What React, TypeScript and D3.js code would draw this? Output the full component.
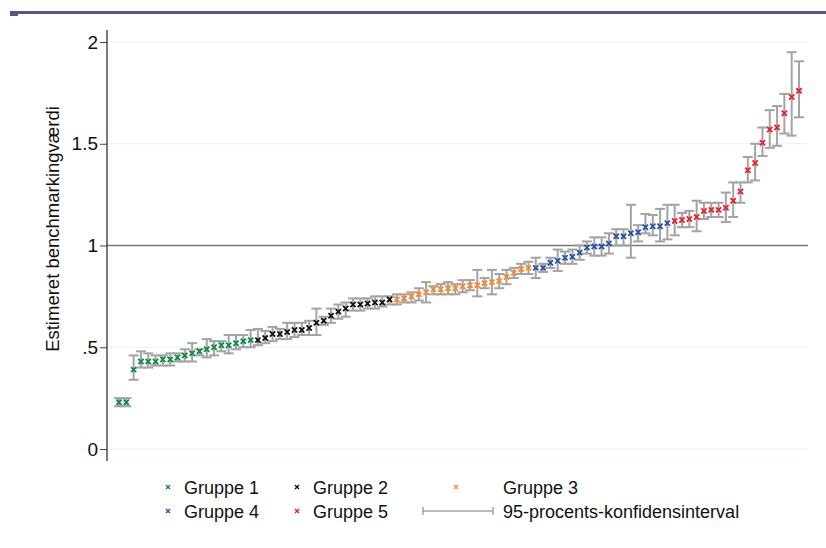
import React, { useRef, useEffect } from 'react';
import * as d3 from 'd3';

// [estimate, lower 95% CI, upper 95% CI], sorted by estimate
const gruppe1: [number, number, number][] = [
  [0.23, 0.21, 0.25], [0.23, 0.21, 0.25], [0.39, 0.34, 0.46], [0.43, 0.4, 0.48],
  [0.43, 0.4, 0.47], [0.43, 0.41, 0.46], [0.44, 0.41, 0.46], [0.44, 0.41, 0.47],
  [0.45, 0.43, 0.47], [0.46, 0.43, 0.49], [0.47, 0.43, 0.52], [0.48, 0.46, 0.49],
  [0.49, 0.45, 0.54], [0.5, 0.46, 0.53], [0.51, 0.48, 0.53], [0.51, 0.47, 0.56],
  [0.52, 0.49, 0.56], [0.53, 0.5, 0.56], [0.535, 0.5, 0.585],
];
const gruppe2: [number, number, number][] = [
  [0.535, 0.51, 0.59], [0.545, 0.52, 0.58], [0.565, 0.53, 0.6], [0.565, 0.54, 0.59],
  [0.575, 0.54, 0.62], [0.585, 0.55, 0.62], [0.585, 0.56, 0.62], [0.595, 0.56, 0.63],
  [0.62, 0.56, 0.69], [0.63, 0.61, 0.65], [0.655, 0.62, 0.69], [0.675, 0.64, 0.71],
  [0.69, 0.65, 0.72], [0.71, 0.68, 0.74], [0.71, 0.68, 0.74], [0.715, 0.69, 0.74],
  [0.72, 0.69, 0.75], [0.72, 0.7, 0.75], [0.735, 0.71, 0.75],
];
const gruppe3: [number, number, number][] = [
  [0.735, 0.71, 0.76], [0.74, 0.72, 0.76], [0.75, 0.72, 0.77], [0.76, 0.73, 0.79],
  [0.77, 0.72, 0.82], [0.785, 0.76, 0.8], [0.785, 0.76, 0.81], [0.79, 0.76, 0.82],
  [0.79, 0.76, 0.81], [0.8, 0.77, 0.83], [0.805, 0.78, 0.83], [0.805, 0.75, 0.88],
  [0.815, 0.79, 0.84], [0.82, 0.76, 0.88], [0.825, 0.79, 0.86], [0.845, 0.81, 0.88],
  [0.865, 0.84, 0.89], [0.885, 0.86, 0.91], [0.89, 0.86, 0.92],
];
const gruppe4: [number, number, number][] = [
  [0.89, 0.84, 0.94], [0.89, 0.87, 0.91], [0.915, 0.89, 0.94], [0.925, 0.875, 0.98],
  [0.94, 0.91, 0.97], [0.945, 0.91, 0.98], [0.965, 0.93, 1.0], [0.99, 0.96, 1.02],
  [0.995, 0.95, 1.04], [0.995, 0.95, 1.04], [1.01, 0.96, 1.06], [1.045, 1.0, 1.08],
  [1.045, 1.0, 1.08], [1.06, 0.94, 1.2], [1.065, 1.02, 1.1], [1.09, 1.06, 1.155],
  [1.095, 1.05, 1.15], [1.095, 1.02, 1.18], [1.11, 1.03, 1.2],
];
const gruppe5: [number, number, number][] = [
  [1.12, 1.05, 1.2], [1.125, 1.09, 1.16], [1.13, 1.09, 1.17], [1.14, 1.07, 1.22],
  [1.17, 1.13, 1.21], [1.175, 1.14, 1.21], [1.175, 1.14, 1.21], [1.185, 1.115, 1.26],
  [1.22, 1.14, 1.31], [1.265, 1.21, 1.31], [1.37, 1.31, 1.435], [1.405, 1.32, 1.5],
  [1.505, 1.44, 1.58], [1.57, 1.48, 1.665], [1.58, 1.49, 1.685], [1.65, 1.55, 1.745],
  [1.73, 1.54, 1.95], [1.76, 1.63, 1.905],
];

const groupNames = ['Gruppe 1', 'Gruppe 2', 'Gruppe 3', 'Gruppe 4', 'Gruppe 5'];
const groupColors = ['#0b8a45', '#111111', '#f7882f', '#2552a8', '#ec1c2a'];
const yTicks = [0, 0.5, 1, 1.5, 2];
const yTickLabels = ['0', '.5', '1', '1.5', '2'];
const yTitle = 'Estimeret benchmarkingværdi';
const ciLabel = '95-procents-konfidensinterval';

const App: React.FC = () => {
  const svgRef = useRef<SVGSVGElement | null>(null);

  useEffect(() => {
    if (!svgRef.current) return;
    const svg = d3.select(svgRef.current);
    svg.selectAll('*').remove();
    const font = 'Arial, "Liberation Sans", sans-serif';

    const points = [gruppe1, gruppe2, gruppe3, gruppe4, gruppe5].flatMap((g, gi) =>
      g.map(([est, lo, hi]) => ({ est, lo, hi, gi }))
    );

    const x = d3.scaleLinear().domain([0, points.length - 1]).range([119, 799]);
    const y = d3.scaleLinear().domain([0, 2]).range([449, 42]);
    const left = 107;
    const right = 808;

    // top banner line
    svg.append('rect').attr('x', 10).attr('y', 11).attr('width', 816).attr('height', 3).attr('fill', '#5c5290');
    svg.append('rect').attr('x', 10).attr('y', 13).attr('width', 8).attr('height', 3).attr('fill', '#5c5290');

    // gridlines
    svg.append('g')
      .selectAll('line')
      .data(yTicks.filter((t) => t !== 1))
      .join('line')
      .attr('x1', left).attr('x2', right)
      .attr('y1', (d) => y(d)).attr('y2', (d) => y(d))
      .attr('stroke', '#e8f2f4').attr('stroke-width', 1.2);

    // reference line at 1
    svg.append('line')
      .attr('x1', left).attr('x2', right)
      .attr('y1', y(1)).attr('y2', y(1))
      .attr('stroke', '#7a7a7a').attr('stroke-width', 1.3);

    // y axis
    const yAxis = d3.axisLeft(y)
      .tickValues(yTicks)
      .tickSize(7)
      .tickPadding(2)
      .tickFormat((d, i) => yTickLabels[i]);
    const ag = svg.append('g').attr('transform', `translate(${left},0)`).call(yAxis);
    ag.select('.domain').remove();
    ag.selectAll('.tick line').attr('stroke', '#444');
    ag.selectAll('.tick text').attr('font-family', font).attr('font-size', 19).attr('fill', '#111');
    svg.append('line').attr('x1', left).attr('x2', left).attr('y1', 30).attr('y2', 461)
      .attr('stroke', '#222').attr('stroke-width', 1.2);

    svg.append('text')
      .attr('transform', `translate(59,229) rotate(-90)`)
      .attr('text-anchor', 'middle')
      .attr('font-family', font).attr('font-size', 18.5).attr('fill', '#111')
      .text(yTitle);

    // CI bars
    const ci = svg.append('g').attr('stroke', '#a3a3a3').attr('stroke-width', 2).attr('fill', 'none');
    points.forEach((p, i) => {
      const cx = x(i);
      ci.append('line').attr('x1', cx).attr('x2', cx).attr('y1', y(p.lo)).attr('y2', y(p.hi));
      ci.append('line').attr('x1', cx - 5).attr('x2', cx + 5).attr('y1', y(p.lo)).attr('y2', y(p.lo));
      ci.append('line').attr('x1', cx - 5).attr('x2', cx + 5).attr('y1', y(p.hi)).attr('y2', y(p.hi));
    });

    // x markers
    const cross = (g: d3.Selection<SVGGElement, unknown, null, undefined>, cx: number, cy: number, s: number, color: string, w: number) => {
      g.append('path')
        .attr('d', `M${cx - s},${cy - s}L${cx + s},${cy + s}M${cx - s},${cy + s}L${cx + s},${cy - s}`)
        .attr('stroke', color).attr('stroke-width', w).attr('fill', 'none');
    };
    const mg = svg.append('g');
    points.forEach((p, i) => cross(mg, x(i), y(p.est), 2.6, groupColors[p.gi], 1.8));

    // legend
    const lg = svg.append('g');
    const legendItems = [
      { col: 0, row: 0, gi: 0 }, { col: 1, row: 0, gi: 1 }, { col: 2, row: 0, gi: 2 },
      { col: 0, row: 1, gi: 3 }, { col: 1, row: 1, gi: 4 },
    ];
    const markerX = [168, 297, 456];
    const textX = [184, 313, 503];
    const rowY = [487, 511];
    legendItems.forEach((it) => {
      cross(lg, markerX[it.col], rowY[it.row], 2, groupColors[it.gi], 1.4);
      lg.append('text')
        .attr('x', textX[it.col]).attr('y', rowY[it.row] + 6.5)
        .attr('font-family', font).attr('font-size', 18).attr('fill', '#111')
        .text(groupNames[it.gi]);
    });
    lg.append('line').attr('x1', 423).attr('x2', 493).attr('y1', rowY[1]).attr('y2', rowY[1])
      .attr('stroke', '#a3a3a3').attr('stroke-width', 1.5);
    [423, 493].forEach((cx) =>
      lg.append('line').attr('x1', cx).attr('x2', cx).attr('y1', rowY[1] - 4).attr('y2', rowY[1] + 4)
        .attr('stroke', '#a3a3a3').attr('stroke-width', 1.5)
    );
    lg.append('text')
      .attr('x', textX[2]).attr('y', rowY[1] + 6.5)
      .attr('font-family', font).attr('font-size', 18).attr('fill', '#111')
      .text(ciLabel);
  }, []);

  return (
    <div style={{ position: 'absolute', left: 0, top: 0, width: 826, height: 548, background: '#fff' }}>
      <svg ref={svgRef} width={826} height={548}></svg>
    </div>
  );
};

export default App;
